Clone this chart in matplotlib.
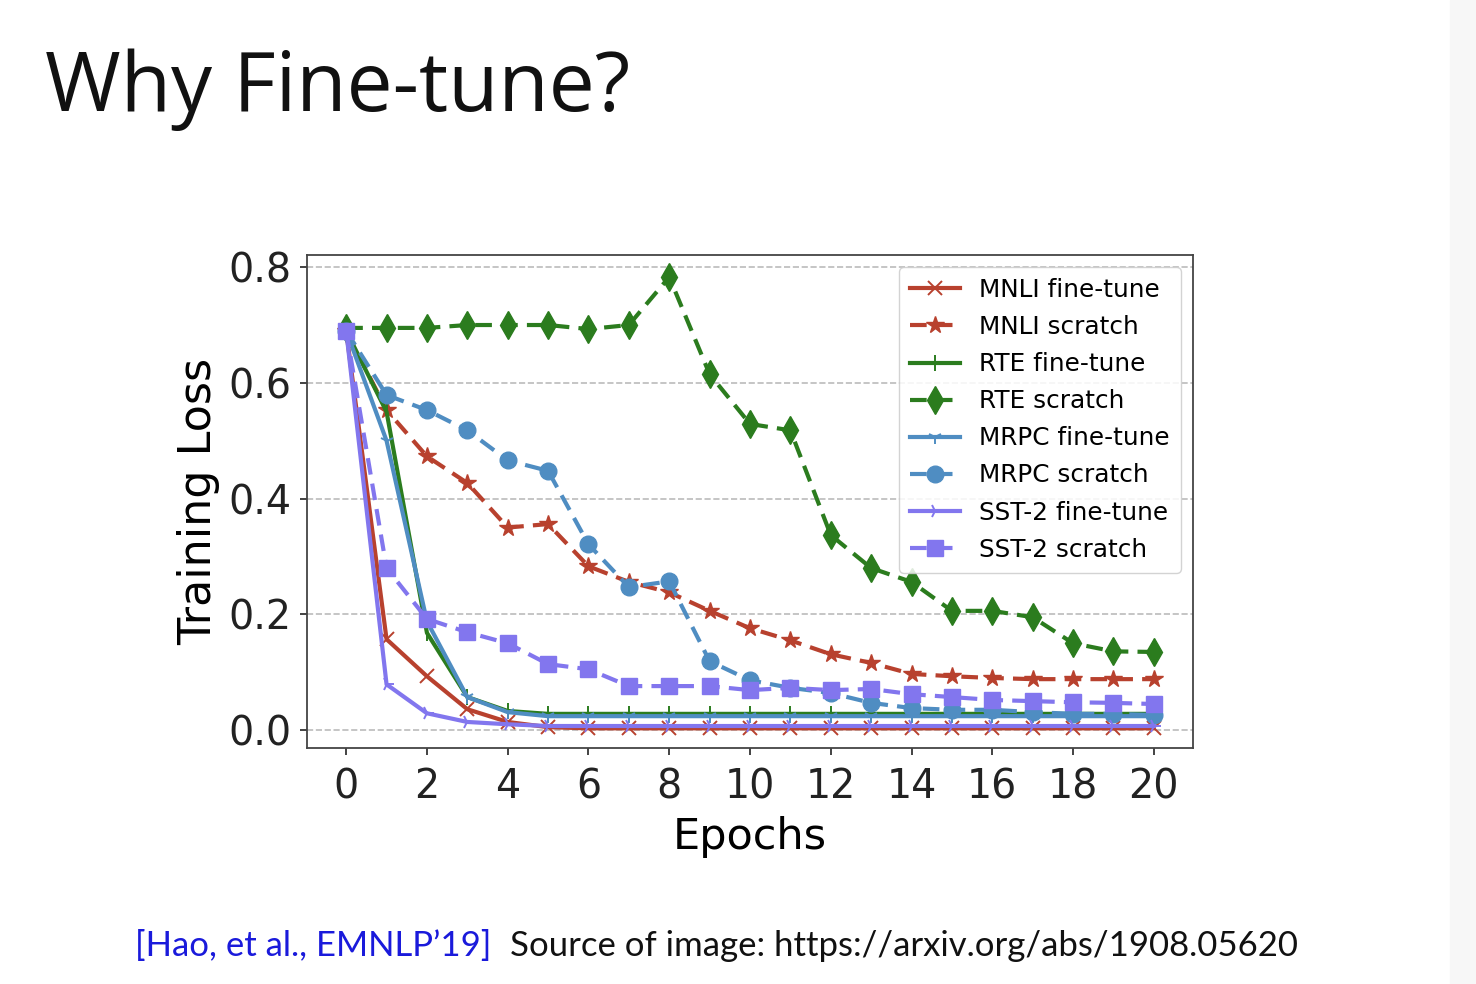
import matplotlib
matplotlib.use("Agg")
import matplotlib.pyplot as plt
import numpy as np

epochs = np.arange(21)

mnli_ft = [0.69, 0.157, 0.093, 0.036, 0.014, 0.005, 0.003, 0.003, 0.003, 0.003, 0.003,
           0.003, 0.003, 0.003, 0.003, 0.003, 0.003, 0.003, 0.003, 0.003, 0.003]
mnli_sc = [0.69, 0.553, 0.473, 0.427, 0.350, 0.356, 0.283, 0.256, 0.238, 0.206, 0.176,
           0.155, 0.131, 0.116, 0.097, 0.093, 0.090, 0.088, 0.088, 0.088, 0.088]
rte_ft = [0.69, 0.55, 0.168, 0.057, 0.033, 0.028, 0.028, 0.028, 0.028, 0.028, 0.028,
          0.028, 0.028, 0.028, 0.028, 0.028, 0.028, 0.028, 0.028, 0.028, 0.028]
rte_sc = [0.695, 0.695, 0.695, 0.70, 0.70, 0.70, 0.693, 0.70, 0.783, 0.615, 0.529,
          0.518, 0.337, 0.280, 0.256, 0.206, 0.206, 0.195, 0.150, 0.136, 0.135]
mrpc_ft = [0.69, 0.50, 0.188, 0.057, 0.031, 0.024, 0.024, 0.024, 0.024, 0.024, 0.024,
           0.024, 0.024, 0.024, 0.024, 0.024, 0.024, 0.024, 0.024, 0.024, 0.024]
mrpc_sc = [0.69, 0.579, 0.553, 0.518, 0.466, 0.448, 0.321, 0.247, 0.257, 0.119, 0.086,
           0.073, 0.064, 0.047, 0.038, 0.035, 0.035, 0.031, 0.028, 0.028, 0.026]
sst_ft = [0.69, 0.079, 0.029, 0.014, 0.010, 0.007, 0.007, 0.007, 0.007, 0.007, 0.007,
          0.007, 0.007, 0.007, 0.007, 0.007, 0.007, 0.007, 0.007, 0.007, 0.007]
sst_sc = [0.69, 0.280, 0.192, 0.169, 0.150, 0.114, 0.105, 0.076, 0.076, 0.076, 0.069,
          0.073, 0.069, 0.071, 0.062, 0.057, 0.052, 0.050, 0.048, 0.047, 0.045]

RED = "#b8412e"
GREEN = "#2b7c1e"
BLUE = "#4f8dc2"
PURPLE = "#8276ee"

fig = plt.figure(figsize=(14.76, 9.84), dpi=100)
fig.patch.set_facecolor("white")

# light strip at the right edge of the slide
fig.patches.append(plt.Rectangle((1450 / 1476, 0), 26 / 1476, 1, transform=fig.transFigure,
                                 color="#f7f7f7", zorder=0))

fig.text(45 / 1476, 1 - 111 / 984, "Why Fine-tune?", fontsize=59, family="Open Sans",
         va="baseline", ha="left", color="#111111")

ax = fig.add_axes([307 / 1476, 1 - 748 / 984, 886 / 1476, 493 / 984])

lw = 3.0
dash = (4, 2.2)
ax.plot(epochs, mnli_ft, "-", marker="x", color=RED, lw=lw, ms=10, mew=1.4, label="MNLI fine-tune")
ax.plot(epochs, mnli_sc, "--", dashes=dash, marker="*", color=RED, lw=lw, ms=13, label="MNLI scratch")
ax.plot(epochs, rte_ft, "-", marker="|", color=GREEN, lw=lw, ms=11, mew=1.4, label="RTE fine-tune")
ax.plot(epochs, rte_sc, "--", dashes=dash, marker="d", color=GREEN, lw=lw, ms=14, label="RTE scratch")
ax.plot(epochs, mrpc_ft, "-", marker="1", color=BLUE, lw=lw, ms=10, mew=1.4, label="MRPC fine-tune")
ax.plot(epochs, mrpc_sc, "--", dashes=dash, marker="o", color=BLUE, lw=lw, ms=12, label="MRPC scratch")
ax.plot(epochs, sst_ft, "-", marker="4", color=PURPLE, lw=lw, ms=10, mew=1.4, label="SST-2 fine-tune")
ax.plot(epochs, sst_sc, "--", dashes=dash, marker="s", color=PURPLE, lw=lw, ms=12, label="SST-2 scratch")

ax.set_xlim(-0.97, 20.97)
ax.set_ylim(-0.031, 0.821)
ax.set_xticks(np.arange(0, 21, 2))
ax.set_yticks([0.0, 0.2, 0.4, 0.6, 0.8])
ax.set_yticklabels(["0.0", "0.2", "0.4", "0.6", "0.8"])
ax.tick_params(labelsize=28.5, length=5, width=1.2, colors="#222222")
ax.tick_params(axis="x", pad=9)
ax.tick_params(axis="y", pad=6)
ax.yaxis.grid(True, linestyle="--", color="#bbbbbb", lw=1.2)
ax.set_axisbelow(True)
for s in ax.spines.values():
    s.set_color("#444444")
    s.set_linewidth(1.3)

ax.set_xlabel("Epochs", fontsize=31, labelpad=6)
ax.set_ylabel("Training Loss", fontsize=32, labelpad=6)

ax.legend(loc="upper right", fontsize=17.8, handlelength=2.0, borderpad=0.45,
          labelspacing=0.53, framealpha=0.85, borderaxespad=0,
          bbox_to_anchor=(0.9865, 0.976))

fig.text(135 / 1476, 1 - 956 / 984, "[Hao, et al., EMNLP\u201919]", fontsize=25,
         family="Lato", color="#1a1adb", va="baseline", ha="left")
fig.text(510 / 1476, 1 - 956 / 984, "Source of image: https://arxiv.org/abs/1908.05620",
         fontsize=25, family="Lato", color="#111111", va="baseline", ha="left")

fig.savefig("out.png", dpi=100)
